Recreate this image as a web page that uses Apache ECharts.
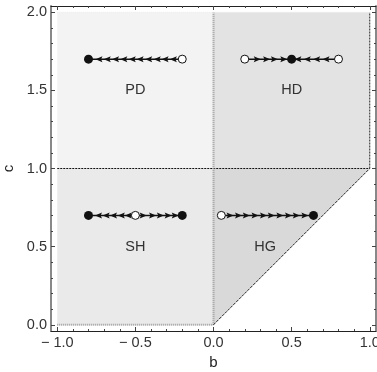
<!DOCTYPE html>
<html>
<head>
<meta charset="utf-8">
<script src="https://cdn.jsdelivr.net/npm/echarts@6/dist/echarts.min.js"></script>
<style>
  html, body { margin: 0; padding: 0; background: #fff; }
  #chart { width: 377px; height: 372px; }
</style>
</head>
<body>
<div id="chart"></div>
<script>
// phase diagram in the (b, c) plane

const xMajor = [-1, -0.5, 0, 0.5, 1];
const xMinor = [-0.9, -0.8, -0.7, -0.6, -0.4, -0.3, -0.2, -0.1, 0.1, 0.2, 0.3, 0.4, 0.6, 0.7, 0.8, 0.9];
const yMajor = [0, 0.5, 1, 1.5, 2];
const yMinor = [0.1, 0.2, 0.3, 0.4, 0.6, 0.7, 0.8, 0.9, 1.1, 1.2, 1.3, 1.4, 1.6, 1.7, 1.8, 1.9];

const regionNames = ['PD', 'HD', 'SH', 'HG'];
const regionPolygons = [
    [[-1, 1], [0, 1], [0, 2], [-1, 2]],
    [[0, 1], [1, 1], [1, 2], [0, 2]],
    [[-1, 0], [0, 0], [0, 1], [-1, 1]],
    [[0, 0], [1, 1], [0, 1]]
];
const regionLabelPos = [[-0.5, 1.5], [0.5, 1.5], [-0.5, 0.5], [0.33, 0.5]];
const regionColors = ['#f3f3f3', '#e3e3e3', '#eaeaea', '#d9d9d9'];

// flow lines
const flowSegments = [
    [[-0.8, 1.7], [-0.2, 1.7]],
    [[0.2, 1.7], [0.8, 1.7]],
    [[-0.8, 0.7], [-0.2, 0.7]],
    [[0.05, 0.7], [0.64, 0.7]]
];
const stablePoints = [[-0.8, 1.7], [0.5, 1.7], [-0.8, 0.7], [-0.2, 0.7], [0.64, 0.7]];
const unstablePoints = [[-0.2, 1.7], [0.2, 1.7], [0.8, 1.7], [-0.5, 0.7], [0.05, 0.7]];
const arrowsLeft = [
    [-0.733, 1.7], [-0.68, 1.7], [-0.627, 1.7], [-0.574, 1.7], [-0.52, 1.7],
    [-0.47, 1.7], [-0.415, 1.7], [-0.36, 1.7], [-0.31, 1.7], [-0.257, 1.7],
    [0.54, 1.7], [0.6, 1.7], [0.66, 1.7], [0.72, 1.7],
    [-0.736, 0.7], [-0.687, 0.7], [-0.64, 0.7], [-0.59, 0.7], [-0.545, 0.7]
];
const arrowsRight = [
    [0.28, 1.7], [0.34, 1.7], [0.39, 1.7], [0.45, 1.7],
    [-0.45, 0.7], [-0.39, 0.7], [-0.34, 0.7], [-0.29, 0.7], [-0.245, 0.7],
    [0.106, 0.7], [0.16, 0.7], [0.21, 0.7], [0.266, 0.7], [0.32, 0.7],
    [0.37, 0.7], [0.425, 0.7], [0.48, 0.7], [0.53, 0.7], [0.585, 0.7]
];

// region borders
const borderSegments = [
    [[-1, 1], [1, 1]],
    [[0, 0], [0, 2]],
    [[-1, 0], [0, 0]],
    [[1, 1], [1, 2]],
    [[0, 0], [1, 1]],
    [[-1, 2], [1, 2]]
];
const borderStyles = [
    { color: '#111', width: 1, type: [2, 1] },
    { color: '#999', width: 2, type: [1, 1] },
    { color: '#999', width: 2, type: [1, 1] },
    { color: '#222', width: 1, type: [2, 1] },
    { color: '#222', width: 1, type: [3, 1] },
    { color: '#ececec', width: 1, type: [1, 1] }
];

const chart = echarts.init(document.getElementById('chart'));
const font = 'Liberation Sans, Arial, sans-serif';
const arrowPath = 'path://M0,0L10,5L0,10L2,5Z';
const fmt = v => (v < 0 ? '\u2212 ' + Math.abs(v).toFixed(1) : v.toFixed(1));

function xAxisDef(pos, values, len, showLine, showLabel) {
    return {
        type: 'value', position: pos, min: -1.04, max: 1.04,
        axisLine: { show: showLine, onZero: false, lineStyle: { color: '#222', width: 1 } },
        axisTick: { show: true, inside: true, length: len, customValues: values, lineStyle: { color: '#444' } },
        axisLabel: showLabel ? { show: true, customValues: values, formatter: fmt, color: '#333', fontSize: 14.5, fontFamily: font, margin: 4, hideOverlap: false } : { show: false },
        splitLine: { show: false }
    };
}
function yAxisDef(pos, values, len, showLine, showLabel) {
    return {
        type: 'value', position: pos, min: -0.04, max: 2.04,
        axisLine: { show: showLine, onZero: false, lineStyle: { color: '#888', width: 2 } },
        axisTick: { show: true, inside: true, length: len, customValues: values, lineStyle: { color: '#444' } },
        axisLabel: showLabel ? { show: true, customValues: values, formatter: fmt, color: '#333', fontSize: 14.5, fontFamily: font, margin: 4 } : { show: false },
        splitLine: { show: false }
    };
}

const xAxes = [
    xAxisDef('bottom', xMajor, 4, true, true),
    xAxisDef('bottom', xMinor, 2, false, false),
    xAxisDef('top', xMajor, 4, true, false),
    xAxisDef('top', xMinor, 2, false, false)
];
xAxes[0].name = 'b';
xAxes[0].nameLocation = 'middle';
xAxes[0].nameGap = 23;
xAxes[0].nameTextStyle = { color: '#222', fontSize: 15, fontFamily: font };

const yAxes = [
    yAxisDef('left', yMajor, 4, true, true),
    yAxisDef('left', yMinor, 2, false, false),
    yAxisDef('right', yMajor, 4, true, false),
    yAxisDef('right', yMinor, 2, false, false)
];
yAxes[0].name = 'c';
yAxes[0].nameLocation = 'middle';
yAxes[0].nameGap = 27;
yAxes[0].nameTextStyle = { color: '#222', fontSize: 15, fontFamily: font };

const series = [
    {
        type: 'custom',
        data: regionLabelPos,
        z: 1,
        silent: true,
        renderItem: (params, api) => {
            const i = params.dataIndex;
            const pts = regionPolygons[i].map(p => api.coord(p));
            const lp = api.coord([api.value(0), api.value(1)]);
            return {
                type: 'group',
                children: [
                    { type: 'polygon', shape: { points: pts }, style: { fill: regionColors[i] } },
                    { type: 'text', x: lp[0], y: lp[1], style: { text: regionNames[i], fill: '#333', font: '14.5px ' + font, align: 'center', verticalAlign: 'middle' } }
                ]
            };
        }
    }
];

borderSegments.forEach((seg, i) => {
    series.push({
        type: 'line', data: seg, symbol: 'none', z: 2, silent: true,
        lineStyle: borderStyles[i]
    });
});

flowSegments.forEach(seg => {
    series.push({
        type: 'line', data: seg, symbol: 'none', z: 3, silent: true,
        lineStyle: { color: '#111', width: 1.5 }
    });
});

series.push({
    type: 'scatter', data: arrowsLeft, symbol: arrowPath, symbolSize: [7, 6], symbolRotate: 180, z: 4,
    itemStyle: { color: '#111', opacity: 1 }
});
series.push({
    type: 'scatter', data: arrowsRight, symbol: arrowPath, symbolSize: [7, 6], symbolRotate: 0, z: 4,
    itemStyle: { color: '#111', opacity: 1 }
});
series.push({
    type: 'scatter', data: stablePoints, symbol: 'circle', symbolSize: 9, z: 5,
    itemStyle: { color: '#111', opacity: 1 }
});
series.push({
    type: 'scatter', data: unstablePoints, symbol: 'circle', symbolSize: 8, z: 5,
    itemStyle: { color: '#fff', borderColor: '#111', borderWidth: 1, opacity: 1 }
});

chart.setOption({
    animation: false,
    grid: { left: 51, right: 1, top: 6, bottom: 41, outerBoundsMode: 'none', containLabel: false },
    xAxis: xAxes,
    yAxis: yAxes,
    series: series
});
</script>
</body>
</html>
